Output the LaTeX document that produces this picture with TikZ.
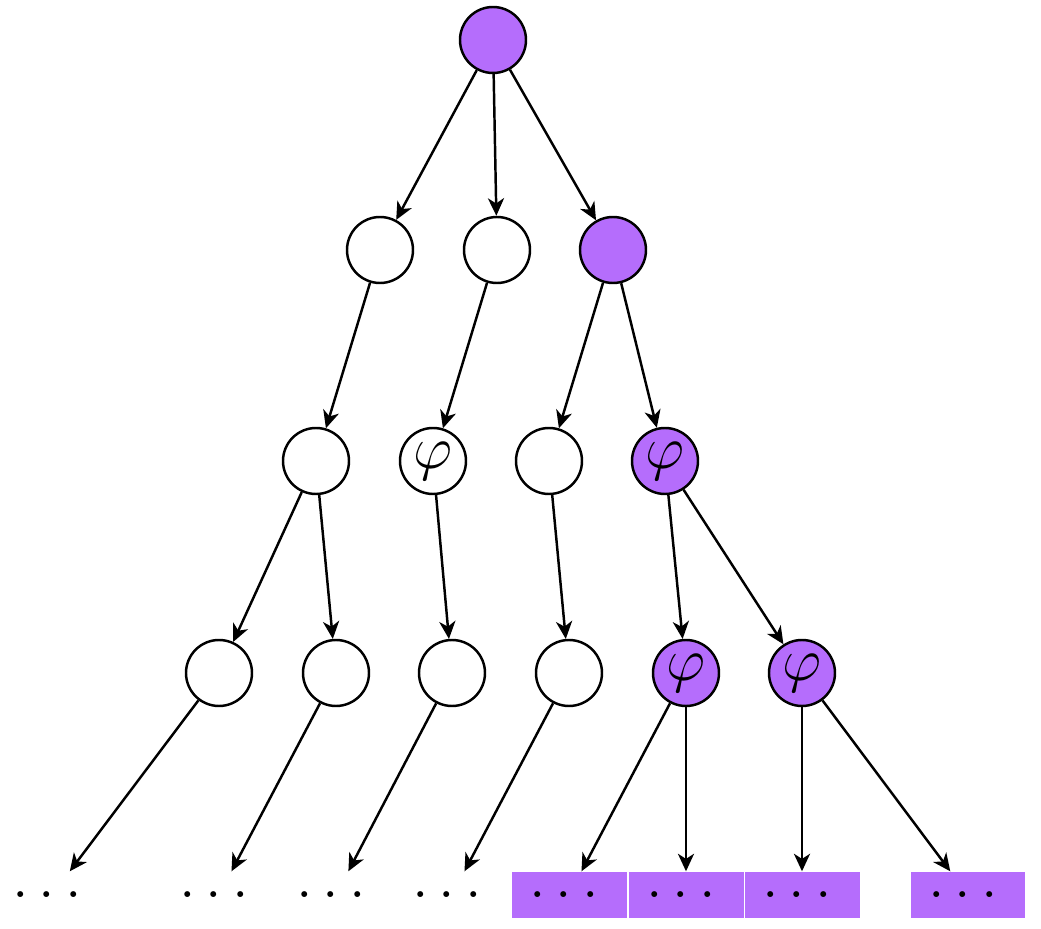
\documentclass[tikz,border=0pt]{standalone}
\usepackage{amsmath}
\usepackage{amssymb}
\usepackage{xcolor}
\usetikzlibrary{positioning, arrows.meta}
\definecolor{markedpurple}{RGB}{181, 109, 252}

\begin{document}
\begin{tikzpicture}[
    vertex/.style={circle, draw, line width=0.7pt, minimum size=0.66cm, inner sep=0pt, font=\LARGE},
    marked/.style={vertex, fill=markedpurple},
    tailbox/.style={minimum width=1.15cm, minimum height=0.46cm, inner sep=0pt,
                    font=\fontsize{18.5}{22}\selectfont},
    link/.style={line width=0.7pt, -{Stealth[length=5pt, width=4.6pt, inset=1.5pt]}}
]
    \useasboundingbox (0,0) rectangle (10.41,9.29);

    % root
    \node[marked] (r) at (4.93,8.89) {};

    % first level
    \node[vertex] (a1) at (3.80,6.79) {};
    \node[vertex] (a2) at (4.97,6.79) {};
    \node[marked] (a3) at (6.13,6.79) {};

    % second level
    \node[vertex] (b1) at (3.16,4.68) {};
    \node[vertex] (b2) at (4.33,4.68) {$\varphi$};
    \node[vertex] (b3) at (5.49,4.68) {};
    \node[marked] (b4) at (6.65,4.68) {$\varphi$};

    % third level
    \node[vertex] (c1) at (2.19,2.56) {};
    \node[vertex] (c2) at (3.36,2.56) {};
    \node[vertex] (c3) at (4.52,2.56) {};
    \node[vertex] (c4) at (5.69,2.56) {};
    \node[marked] (c5) at (6.86,2.56) {$\varphi$};
    \node[marked] (c6) at (8.02,2.56) {$\varphi$};

    % continuations
    \foreach \n/\x in {d1/0.52, d2/2.19, d3/3.36, d4/4.52}
        \node[tailbox] (\n) at (\x,0.34) {$\dots$};
    \foreach \n/\x in {d5/5.69, d6/6.86, d7/8.02, d8/9.68}
        \node[tailbox, fill=markedpurple] (\n) at (\x,0.34) {$\dots$};

    \foreach \a/\b in {r/a1, r/a2, r/a3, a1/b1, a2/b2, a3/b3, a3/b4,
                       b1/c1, b1/c2, b2/c3, b3/c4, b4/c5, b4/c6,
                       c1/d1, c2/d2, c3/d3, c4/d4, c5/d5, c5/d6, c6/d7, c6/d8}
        \draw[link] (\a) -- (\b);
\end{tikzpicture}
\end{document}
